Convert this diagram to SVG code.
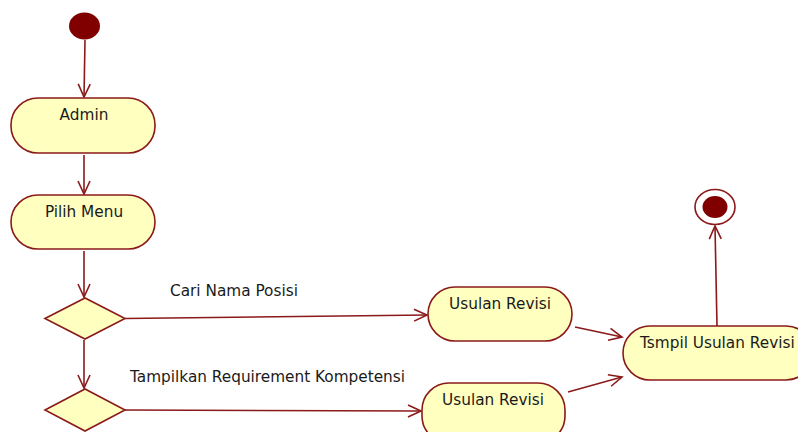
<svg xmlns="http://www.w3.org/2000/svg" width="798" height="432" viewBox="0 0 798 432">
  <style>
    .act { fill: #ffffc0; stroke: #8b1a1a; stroke-width: 1.6; }
    .dec { fill: #ffffc0; stroke: #8b1a1a; stroke-width: 1.6; }
    .edge { fill: none; stroke: #8b1a1a; stroke-width: 1.6; marker-end: url(#open); }
    text { font-family: "DejaVu Sans", Verdana, sans-serif; font-size: 15.3px; fill: #1a1a1a; }
    .c { text-anchor: middle; }
  </style>
  <defs>
    <marker id="open" markerWidth="16" markerHeight="14" refX="14" refY="7" orient="auto" markerUnits="userSpaceOnUse">
      <path d="M1,1 L14,7 L1,13" fill="none" stroke="#8b1a1a" stroke-width="1.6"/>
    </marker>
  </defs>
  <rect width="798" height="432" fill="#ffffff"/>

  <g id="connectors">
    <path class="edge" d="M85,40 L84,97"/>
    <path class="edge" d="M84,155 L84,194"/>
    <path class="edge" d="M84,251 L84,297"/>
    <path class="edge" d="M84,340 L84,388"/>
    <path class="edge" d="M125,318.5 L427,315"/>
    <path class="edge" d="M125,410 L421,411"/>
    <path class="edge" d="M575,327 L622,337"/>
    <path class="edge" d="M568,392 L622,377"/>
    <path class="edge" d="M717,326 L715,226"/>
  </g>

  <g id="start">
    <ellipse cx="84.5" cy="26" rx="15.5" ry="13.5" fill="#800000"/>
  </g>

  <g id="admin">
    <rect class="act" x="11" y="98" width="144" height="55" rx="27" ry="27"/>
    <text class="c" x="84" y="120">Admin</text>
  </g>

  <g id="pilih-menu">
    <rect class="act" x="11" y="195" width="144" height="54" rx="27" ry="27"/>
    <text class="c" x="84" y="217">Pilih Menu</text>
  </g>

  <g id="decision-1">
    <polygon class="dec" points="45,318.5 85,298 125,318.5 85,339"/>
  </g>

  <g id="decision-2">
    <polygon class="dec" points="45,410 85,389 125,410 85,431"/>
  </g>

  <g id="labels">
    <text x="170" y="296">Cari Nama Posisi</text>
    <text x="130" y="382">Tampilkan Requirement Kompetensi</text>
  </g>

  <g id="usulan-revisi-1">
    <rect class="act" x="428" y="287" width="144" height="54" rx="27" ry="27"/>
    <text class="c" x="500" y="309">Usulan Revisi</text>
  </g>

  <g id="usulan-revisi-2">
    <rect class="act" x="422" y="383" width="143" height="60" rx="27" ry="27"/>
    <text class="c" x="493" y="405">Usulan Revisi</text>
  </g>

  <g id="tampil-usulan-revisi">
    <rect class="act" x="623" y="326" width="190" height="54" rx="27" ry="27"/>
    <text x="640" y="348">Tsmpil Usulan Revisi</text>
  </g>

  <g id="end">
    <ellipse cx="715" cy="207" rx="20" ry="17.5" fill="#ffffff" stroke="#8b1a1a" stroke-width="1.6"/>
    <ellipse cx="715" cy="207" rx="12.5" ry="11" fill="#800000"/>
  </g>
</svg>
